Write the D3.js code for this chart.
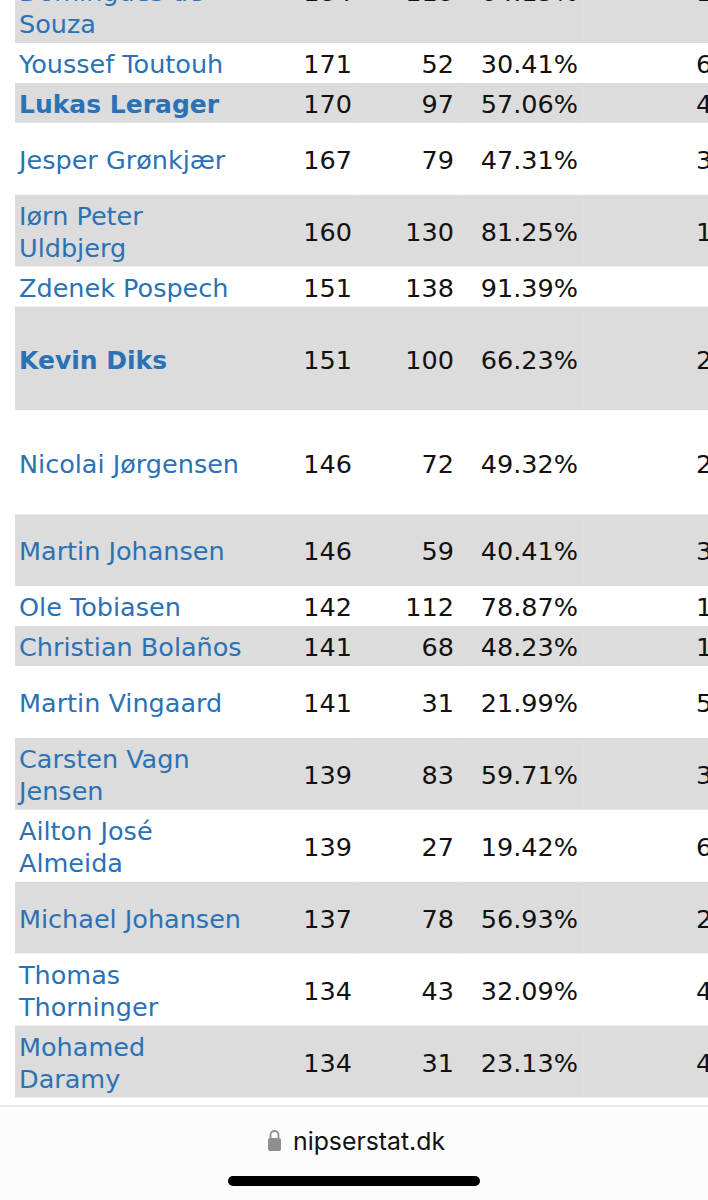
<!DOCTYPE html>
<html lang="en">
<head>
<meta charset="utf-8">
<title>nipserstat.dk</title>
<script src="https://cdn.jsdelivr.net/npm/d3@7/dist/d3.min.js"></script>
<style>
html, body { margin: 0; padding: 0; background: #fff; }
svg { display: block; }
text { font-family: "DejaVu Sans", sans-serif; }
</style>
</head>
<body>
<script>
// first line of the top row is scrolled out of the picture
var playerNames = [
	["", "Domingues de", "Souza"], ["Youssef Toutouh"], ["Lukas Lerager"], ["Jesper Grønkjær"],
	["Iørn Peter", "Uldbjerg"], ["Zdenek Pospech"], ["Kevin Diks"], ["Nicolai Jørgensen"],
	["Martin Johansen"], ["Ole Tobiasen"], ["Christian Bolaños"], ["Martin Vingaard"],
	["Carsten Vagn", "Jensen"], ["Ailton José", "Almeida"], ["Michael Johansen"],
	["Thomas", "Thorninger"], ["Mohamed", "Daramy"]
];
var matches = [184, 171, 170, 167, 160, 151, 151, 146, 146, 142, 141, 141, 139, 139, 137, 134, 134];
var wins = [118, 52, 97, 79, 130, 138, 100, 72, 59, 112, 68, 31, 83, 27, 78, 43, 31];
var percents = ["64.13%", "30.41%", "57.06%", "47.31%", "81.25%", "91.39%", "66.23%", "49.32%",
	"40.41%", "78.87%", "48.23%", "21.99%", "59.71%", "19.42%", "56.93%", "32.09%", "23.13%"];
var nextColumn = ["1", "6", "4", "3", "1", "", "2", "2", "3", "1", "1", "5", "3", "6", "2", "4", "4"];
var boldPlayers = ["Lukas Lerager", "Kevin Diks"];
var rowLines = [3, 1, 1, 2, 2, 1, 3, 3, 2, 1, 1, 2, 2, 2, 2, 2, 2];

var width = 708, height = 1200;
var svg = d3.select("body").append("svg")
	.attr("width", width)
	.attr("height", height);

// row heights are 8 + 32 per line, squeezed a little by the screenshot
var rows = [];
var rowTop = 43 - (8 + rowLines[0] * 32);
var squeeze = 0.9985;
rowLines.forEach(function(n, i) {
	var h = (8 + n * 32) * (i == 0 ? 1 : squeeze);
	rows.push({
		i: i, top: rowTop, h: h,
		name: playerNames[i], m: matches[i], w: wins[i], p: percents[i], next: nextColumn[i]
	});
	rowTop += h;
});

var row = svg.selectAll("g.row")
	.data(rows)
	.enter()
	.append("g")
	.attr("class", "row")
	.attr("transform", function(d) { return "translate(0," + d.top + ")"; });

row.append("rect")
	.attr("x", 15)
	.attr("width", width - 15)
	.attr("height", function(d) { return d.h; })
	.attr("fill", function(d) { return d.i % 2 == 0 ? "#dcdcdc" : "#fff"; });

// faint cell borders inside the grey rows
[355, 458, 583].forEach(function(x) {
	row.filter(function(d) { return d.i % 2 == 0; })
		.append("rect")
		.attr("x", x)
		.attr("width", 1)
		.attr("height", function(d) { return d.h; })
		.attr("fill", "#dfdfdf");
});

var fontSize = 25.5;
var baseline = 10.2;

row.each(function(d) {
	var g = d3.select(this);
	var mid = d.h / 2;
	d.name.forEach(function(line, j) {
		var bold = boldPlayers.indexOf(line) >= 0;
		g.append("text")
			.attr("x", 19)
			.attr("y", mid + baseline + (j - (d.name.length - 1) / 2) * 32)
			.attr("font-size", bold ? 25 : fontSize)
			.attr("fill", "#2a72b5")
			.attr("font-weight", bold ? "bold" : "normal")
			.text(line);
	});
	g.append("text").attr("x", 352).attr("y", mid + baseline).attr("text-anchor", "end")
		.attr("font-size", fontSize).attr("fill", "#111").text(d.m);
	g.append("text").attr("x", 454).attr("y", mid + baseline).attr("text-anchor", "end")
		.attr("font-size", fontSize).attr("fill", "#111").text(d.w);
	g.append("text").attr("x", 578).attr("y", mid + baseline).attr("text-anchor", "end")
		.attr("font-size", fontSize).attr("fill", "#111").text(d.p);
	g.append("text").attr("x", 696).attr("y", mid + baseline)
		.attr("font-size", fontSize).attr("fill", "#111").text(d.next);
});

// browser bar
svg.append("rect").attr("x", 0).attr("y", 1105).attr("width", width).attr("height", 95).attr("fill", "#fcfcfd");
svg.append("rect").attr("x", 0).attr("y", 1105).attr("width", width).attr("height", 2).attr("fill", "#e8e8e8");
svg.append("rect").attr("x", 268).attr("y", 1138).attr("width", 13).attr("height", 13).attr("rx", 2).attr("fill", "#8e8e93");
svg.append("path")
	.attr("d", "M270.5 1138 v-3 a4 4 0 0 1 8 0 v3")
	.attr("fill", "none").attr("stroke", "#8e8e93").attr("stroke-width", 1.8);
svg.append("text")
	.attr("x", 293).attr("y", 1150)
	.style("font-family", "Inter, sans-serif")
	.attr("font-size", 24.8)
	.attr("fill", "#111")
	.text("nipserstat.dk");
svg.append("rect").attr("x", 228).attr("y", 1176).attr("width", 252).attr("height", 10).attr("rx", 5).attr("fill", "#000");
</script>
</body>
</html>
